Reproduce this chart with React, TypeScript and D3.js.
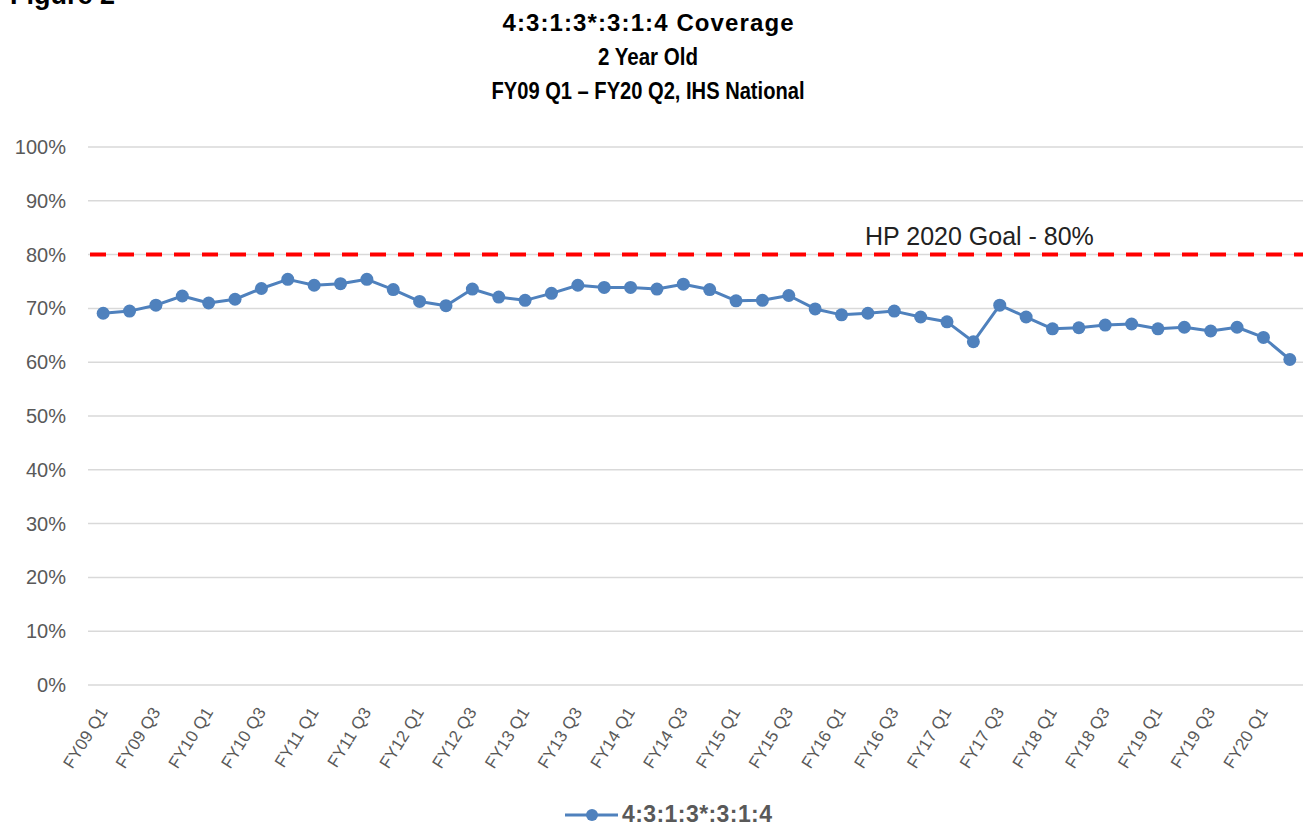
import React from "react";
import * as d3 from "d3";

const quarters = [
  "FY09 Q1", "FY09 Q2", "FY09 Q3", "FY09 Q4",
  "FY10 Q1", "FY10 Q2", "FY10 Q3", "FY10 Q4",
  "FY11 Q1", "FY11 Q2", "FY11 Q3", "FY11 Q4",
  "FY12 Q1", "FY12 Q2", "FY12 Q3", "FY12 Q4",
  "FY13 Q1", "FY13 Q2", "FY13 Q3", "FY13 Q4",
  "FY14 Q1", "FY14 Q2", "FY14 Q3", "FY14 Q4",
  "FY15 Q1", "FY15 Q2", "FY15 Q3", "FY15 Q4",
  "FY16 Q1", "FY16 Q2", "FY16 Q3", "FY16 Q4",
  "FY17 Q1", "FY17 Q2", "FY17 Q3", "FY17 Q4",
  "FY18 Q1", "FY18 Q2", "FY18 Q3", "FY18 Q4",
  "FY19 Q1", "FY19 Q2", "FY19 Q3", "FY19 Q4",
  "FY20 Q1", "FY20 Q2",
];

// coverage, fraction of 2 year olds
const coverage = [
  0.691, 0.695, 0.706, 0.723, 0.710, 0.717, 0.737, 0.754,
  0.743, 0.746, 0.754, 0.735, 0.713, 0.705, 0.736, 0.721,
  0.715, 0.728, 0.743, 0.739, 0.739, 0.736, 0.745, 0.735,
  0.714, 0.715, 0.724, 0.699, 0.688, 0.691, 0.695, 0.684,
  0.675, 0.638, 0.706, 0.684, 0.662, 0.664, 0.669, 0.671,
  0.662, 0.665, 0.658, 0.665, 0.646, 0.605,
];

const yTicks = [0, 0.1, 0.2, 0.3, 0.4, 0.5, 0.6, 0.7, 0.8, 0.9, 1.0];
const goal = 0.8;
const goalLabel = "HP 2020 Goal - 80%";
const seriesName = "4:3:1:3*:3:1:4";
const titleLines = [
  "4:3:1:3*:3:1:4 Coverage",
  "2 Year Old",
  "FY09 Q1 \u2013 FY20 Q2, IHS National",
];

const W = 1307;
const H = 827;
const left = 90;
const right = 1303;
const top = 147;
const bottom = 685;

const blue = "#4f81bd";
const grey = "#595959";

const App = () => {
  const x = d3.scaleBand<string>().domain(quarters).range([left, right]).padding(0);
  const cx = (q: string) => (x(q) as number) + x.bandwidth() / 2;
  const y = d3.scaleLinear().domain([0, 1]).range([bottom, top]);
  const fmt = d3.format(".0%");

  const line = d3
    .line<number>()
    .x((_, i) => cx(quarters[i]))
    .y((d) => y(d));

  const titleWidths = [291, 100, 313];

  return (
    <svg
      width={W}
      height={H}
      style={{ position: "absolute", left: 0, top: 0, background: "#fff" }}
      fontFamily="'Liberation Sans', Arial, sans-serif"
    >
      <text x={10} y={4} fontSize={27} fontWeight="bold" fill="#000">
        Figure 2
      </text>

      {titleLines.map((t, i) => (
        <text
          key={t}
          x={648}
          y={31 + i * 34}
          textAnchor="middle"
          fontSize={24}
          fontWeight="bold"
          fill="#000"
          textLength={titleWidths[i]}
          lengthAdjust={i === 0 ? "spacing" : "spacingAndGlyphs"}
        >
          {t}
        </text>
      ))}

      {yTicks.map((t) => (
        <g key={t}>
          <line x1={left - 2} x2={right} y1={y(t)} y2={y(t)} stroke="#d9d9d9" strokeWidth={1.5} />
          <text x={66} y={y(t)} dy="0.35em" textAnchor="end" fontSize={20} fill={grey}>
            {fmt(t)}
          </text>
        </g>
      ))}

      {quarters.map((q, i) =>
        i % 2 === 0 ? (
          <text
            key={q}
            transform={`translate(${cx(q) + 5},${712}) rotate(-58)`}
            textAnchor="end"
            fontSize={17}
            fill={grey}
          >
            {q}
          </text>
        ) : null
      )}

      <line
        x1={left}
        x2={right}
        y1={y(goal)}
        y2={y(goal)}
        stroke="#ff0000"
        strokeWidth={4}
        strokeDasharray="16 12"
      />
      <text x={865} y={245} fontSize={25} fill="#222">
        {goalLabel}
      </text>

      <path d={line(coverage) ?? ""} fill="none" stroke={blue} strokeWidth={3} strokeLinejoin="round" />
      {coverage.map((v, i) => (
        <circle key={quarters[i]} cx={cx(quarters[i])} cy={y(v)} r={6.5} fill={blue} />
      ))}

      <g>
        <line x1={565} x2={618} y1={815} y2={815} stroke={blue} strokeWidth={3} />
        <circle cx={592} cy={815} r={6} fill={blue} />
        <text x={622} y={822} fontSize={23} fontWeight="bold" fill={grey} textLength={150} lengthAdjust="spacing">
          {seriesName}
        </text>
      </g>
    </svg>
  );
};

export default App;
